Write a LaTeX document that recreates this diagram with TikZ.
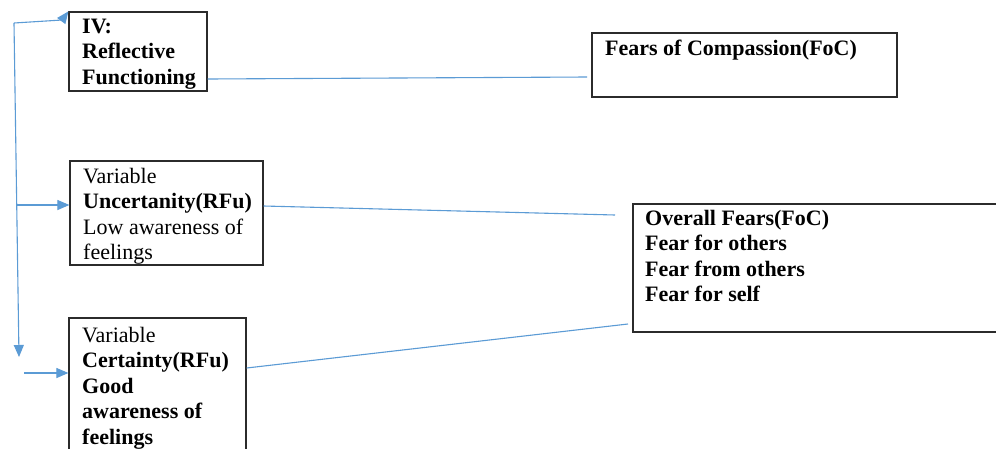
\documentclass[tikz,border=0pt]{standalone}
\usepackage{fontspec}
\setmainfont{Liberation Serif}
\usetikzlibrary{arrows.meta}
\definecolor{linkblue}{HTML}{5B9BD5}
\definecolor{boxgray}{HTML}{2B2B2B}
\tikzset{
  box/.style={draw=boxgray, line width=1.2pt, inner sep=0pt, fill=white},
  txt/.style={anchor=base west, inner sep=0pt, font=\fontsize{22}{25.5}\selectfont},
  link/.style={draw=linkblue, line width=1.1pt},
  arr/.style={link, -{Triangle[length=12pt,width=10pt]}},
}
\begin{document}
\begin{tikzpicture}[x=1pt,y=-1pt]
\useasboundingbox (0,0) rectangle (996,448);
\clip (0,0) rectangle (996,448);
\fill[white] (0,0) rectangle (996,448);
% boxes
\node[box, minimum width=138pt, minimum height=79pt] (iv) at (138,51.5) {};
\node[box, minimum width=305pt, minimum height=64pt] (foc) at (744.5,65) {};
\node[box, minimum width=193pt, minimum height=104pt] (unc) at (166.5,213) {};
\node[box, minimum width=177pt, minimum height=162pt] (cert) at (157.5,399) {};
\node[box, minimum width=377pt, minimum height=128pt] (fears) at (821.5,268) {};
% texts
\node[txt] (ivt) at (82,33) {\begin{tabular}[t]{@{}l@{}}\bfseries IV:\\\bfseries Reflective\\\bfseries Functioning\end{tabular}};
\node[txt] (unct) at (83,183) {\begin{tabular}[t]{@{}l@{}}Variable\\\bfseries Uncertanity(RFu)\\Low awareness of\\feelings\end{tabular}};
\node[txt] (certt) at (82,342) {\begin{tabular}[t]{@{}l@{}}Variable\\\bfseries Certainty(RFu)\\\bfseries Good\\\bfseries awareness of\\\bfseries feelings\end{tabular}};
\node[txt] (foct) at (605,55) {\bfseries Fears of Compassion(FoC)};
\node[txt] (fearst) at (645,225) {\begin{tabular}[t]{@{}l@{}}\bfseries Overall Fears(FoC)\\\bfseries Fear for others\\\bfseries Fear from others\\\bfseries Fear for self\end{tabular}};
% connector coordinates
\coordinate (top) at (14,23);
\coordinate (bend) at (62,20);
\coordinate (vend) at (19,357);
\coordinate (ua) at (17,205);
\coordinate (ca) at (24,373);
\coordinate (focin) at (587,77);
\coordinate (fin1) at (615,215);
\coordinate (fin2) at (628,324);
% left arrows
\draw[arr] (top) -- (bend) -- (iv.north west);
\draw[arr] (top) -- (vend);
\draw[arr] (ua) -- (ua -| unc.west);
\draw[arr] (ca) -- (ca -| cert.west);
% links to right boxes
\draw[link] (iv.east |- 0,79) -- (focin);
\draw[link] (unc.east |- 0,206) -- (fin1);
\draw[link] (cert.east |- 0,368) -- (fin2);
\end{tikzpicture}
\end{document}
